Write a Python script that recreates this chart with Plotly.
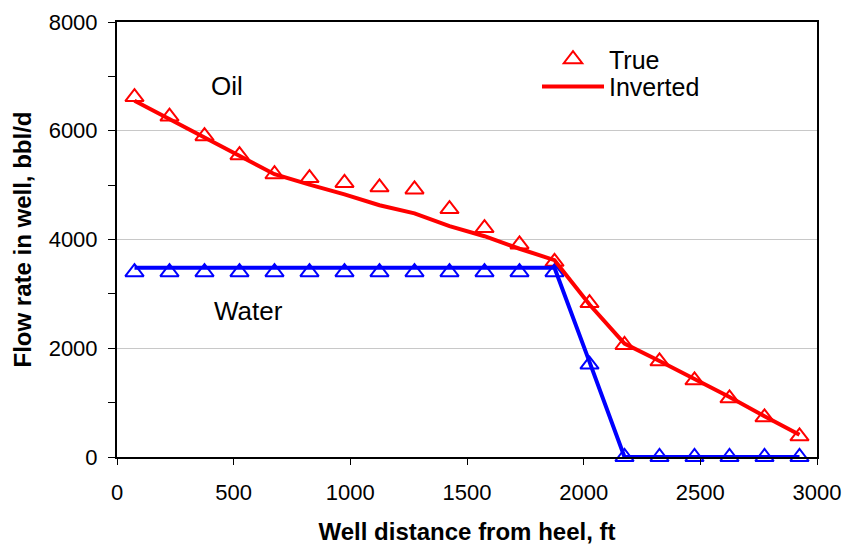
import plotly.graph_objects as go

# Data
distance_ft = [75, 225, 375, 525, 675, 825, 975, 1125, 1275, 1425,
               1575, 1725, 1875, 2025, 2175, 2325, 2475, 2625, 2775, 2925]
oil_true = [6620, 6260, 5900, 5550, 5200, 5130, 5040, 4960, 4920, 4560,
            4210, 3910, 3590, 2830, 2060, 1760, 1410, 1080, 730, 380]
oil_inverted = [6550, 6210, 5870, 5520, 5200, 5010, 4830, 4630, 4480, 4245,
                4060, 3830, 3620, 2805, 2085, 1765, 1440, 1105, 750, 410]
water_true = [3400, 3400, 3400, 3400, 3400, 3400, 3400, 3400, 3400, 3400,
              3400, 3400, 3400, 1700, 0, 0, 0, 0, 0, 0]
water_inverted = [3480, 3480, 3480, 3480, 3480, 3480, 3480, 3480, 3480, 3480,
                  3480, 3480, 3480, 1750, 0, 0, 0, 0, 0, 0]

x_ticks = [0, 500, 1000, 1500, 2000, 2500, 3000]
y_ticks = [0, 2000, 4000, 6000, 8000]

RED = "#ff0000"
BLUE = "#0000ff"
FONT = "Liberation Sans, Arial, sans-serif"

fig = go.Figure()

marker_style = dict(symbol="triangle-up-open", size=16, line=dict(width=2))

fig.add_trace(go.Scatter(
    x=distance_ft, y=oil_true, mode="markers", name="True",
    marker=dict(color=RED, **marker_style), legend="legend", cliponaxis=False))
fig.add_trace(go.Scatter(
    x=distance_ft, y=water_true, mode="markers", name="Water true",
    marker=dict(color=BLUE, **marker_style), showlegend=False, cliponaxis=False))
fig.add_trace(go.Scatter(
    x=distance_ft, y=water_inverted, mode="lines", name="Water inverted",
    line=dict(color=BLUE, width=4), showlegend=False, cliponaxis=False))
fig.add_trace(go.Scatter(
    x=distance_ft, y=oil_inverted, mode="lines", name="Inverted",
    line=dict(color=RED, width=4), legend="legend2", cliponaxis=False))

fig.add_annotation(x=470, y=6814, xref="x", yref="y", text="Oil", showarrow=False,
                   font=dict(family=FONT, size=26, color="black"))
fig.add_annotation(x=565, y=2690, xref="x", yref="y", text="Water", showarrow=False,
                   font=dict(family=FONT, size=26, color="black"))

legend_common = dict(font=dict(family=FONT, size=25, color="black"),
                     bgcolor="rgba(0,0,0,0)", borderwidth=0,
                     xanchor="left", yanchor="middle", itemwidth=62)

fig.update_layout(
    width=846, height=545,
    margin=dict(l=117, r=29, t=22, b=88),
    paper_bgcolor="white", plot_bgcolor="white",
    font=dict(family=FONT, size=22, color="black"),
    legend=dict(x=0.600, y=0.914, **legend_common),
    legend2=dict(x=0.600, y=0.851, **legend_common),
    xaxis=dict(
        range=[0, 3000], tickvals=x_ticks, ticks="outside", ticklen=6,
        tickwidth=1, tickcolor="black", ticklabelstandoff=9, automargin=False,
        showline=True, linecolor="black", linewidth=2, mirror=True,
        showgrid=False, zeroline=False,
        tickfont=dict(family=FONT, size=22),
        title=dict(text="<b>Well distance from heel, ft</b>",
                   font=dict(family=FONT, size=24), standoff=19),
    ),
    yaxis=dict(
        range=[0, 8000], tickvals=y_ticks, ticks="outside", ticklen=7,
        tickwidth=1, tickcolor="black", ticklabelstandoff=6, automargin=False,
        minor=dict(dtick=1000, ticks="outside", ticklen=7, tickcolor="black",
                   showgrid=False),
        showline=True, linecolor="black", linewidth=2, mirror=True,
        showgrid=True, gridcolor="#c8c8c8", gridwidth=1, zeroline=False,
        tickfont=dict(family=FONT, size=22),
        title=dict(text="<b>Flow rate in well, bbl/d</b>",
                   font=dict(family=FONT, size=24), standoff=10),
    ),
)

fig.write_html("out.html")
